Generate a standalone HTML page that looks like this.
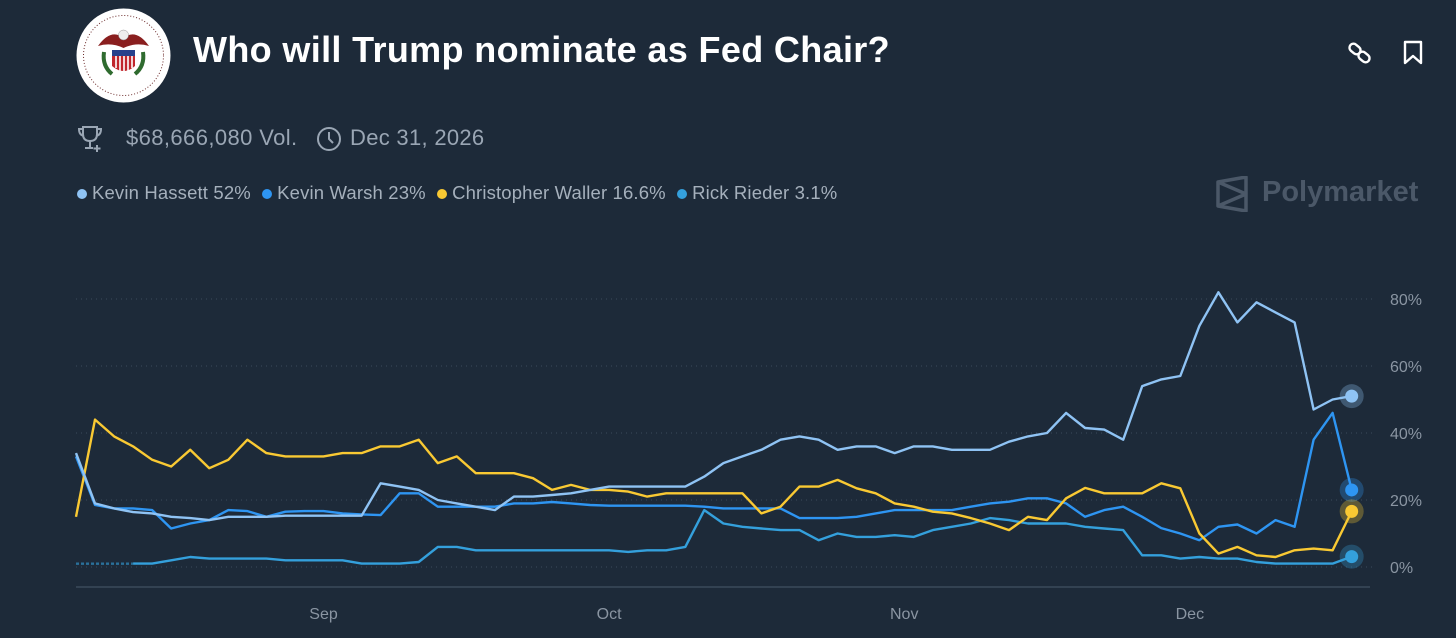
<!DOCTYPE html>
<html><head><meta charset="utf-8">
<style>
html,body{margin:0;padding:0;background:#1d2a39;width:1456px;height:638px;overflow:hidden;font-family:"Liberation Sans",sans-serif;}
.t{position:absolute;white-space:nowrap;}
</style></head>
<body>
<div style="position:relative;width:1456px;height:638px;">
<svg style="position:absolute;left:76px;top:8px" width="95" height="95" viewBox="0 0 95 95">
<circle cx="47.5" cy="47.5" r="47" fill="#fff"/>
<circle cx="47.5" cy="47.5" r="40" fill="none" stroke="#6b2a2a" stroke-width="1" stroke-dasharray="1 2"/>
<path d="M22 38 Q35 20 47.5 30 Q60 20 73 38 Q60 34 47.5 40 Q35 34 22 38Z" fill="#8a1f1f"/>
<circle cx="47.5" cy="27" r="5" fill="#eee" stroke="#999" stroke-width=".5"/>
<path d="M36 42 H59 V58 Q47.5 68 36 58Z" fill="#c0262c"/>
<rect x="36" y="42" width="23" height="6" fill="#27408b"/>
<path d="M40 48V60M44 48V63M48 48V64M52 48V63M56 48V60" stroke="#fff" stroke-width="1.6"/>
<path d="M28 44 Q26 58 36 66" stroke="#2f6b2f" stroke-width="4" fill="none"/>
<path d="M67 44 Q69 58 59 66" stroke="#2f6b2f" stroke-width="4" fill="none"/>
</svg>
<div class="t" style="left:193px;top:29px;font-size:36px;letter-spacing:0.35px;font-weight:bold;color:#fff;">Who will Trump nominate as Fed Chair?</div>
<svg style="position:absolute;left:1347px;top:40px" width="26" height="26" viewBox="0 0 26 26">
<g fill="none" stroke="#fff" stroke-width="2.4"><rect x="2" y="5" width="12" height="8" rx="4" transform="rotate(40 8 9)"/><rect x="11" y="13" width="12" height="8" rx="4" transform="rotate(40 17 17)"/></g></svg>
<svg style="position:absolute;left:1402px;top:40px" width="22" height="26" viewBox="0 0 22 26">
<path d="M3 2H19V23L11 16L3 23Z" fill="none" stroke="#fff" stroke-width="2.4" stroke-linejoin="round"/></svg>
<svg style="position:absolute;left:77px;top:124px" width="28" height="30" viewBox="0 0 28 30">
<g fill="none" stroke="#9aa6b4" stroke-width="2"><path d="M6 3H20V10Q20 17 13 17Q6 17 6 10Z"/><path d="M6 5H2Q2 11 7 12M20 5H24Q24 11 19 12M13 17V23M8 24H16"/><path d="M20 21V28M16.5 24.5H23.5"/></g></svg>
<div class="t" style="left:126px;top:125px;font-size:22px;letter-spacing:0.4px;color:#9aa6b4;">$68,666,080 Vol.</div>
<svg style="position:absolute;left:316px;top:126px" width="26" height="26" viewBox="0 0 26 26">
<g fill="none" stroke="#9aa6b4" stroke-width="2"><circle cx="13" cy="13" r="11"/><path d="M13 6V13L17 17"/></g></svg>
<div class="t" style="left:350px;top:125px;font-size:22px;letter-spacing:0.3px;color:#9aa6b4;">Dec 31, 2026</div>
<div class="t" style="left:77px;top:182px;font-size:18.5px;letter-spacing:0.15px;color:#a5b0bc;">
<span><span style="display:inline-block;width:10px;height:10px;border-radius:50%;background:#8fc3f4;margin-right:5px"></span>Kevin Hassett 52%</span>
<span style="margin-left:6px"><span style="display:inline-block;width:10px;height:10px;border-radius:50%;background:#2e95f2;margin-right:5px"></span>Kevin Warsh 23%</span>
<span style="margin-left:6px"><span style="display:inline-block;width:10px;height:10px;border-radius:50%;background:#f9c933;margin-right:5px"></span>Christopher Waller 16.6%</span>
<span style="margin-left:6px"><span style="display:inline-block;width:10px;height:10px;border-radius:50%;background:#34a0dc;margin-right:5px"></span>Rick Rieder 3.1%</span>
</div>
<svg style="position:absolute;left:1216px;top:176px" width="34" height="36" viewBox="0 0 34 36">
<path d="M2 6L30 1V35L2 30Z M2 6L30 18L2 30 M30 1" fill="none" stroke="#4b5868" stroke-width="3.5" stroke-linejoin="round"/></svg>
<div class="t" style="left:1262px;top:176px;font-size:29px;font-weight:bold;color:#4b5868;">Polymarket</div>
<svg id="chart" style="position:absolute;left:0;top:0" width="1456" height="638"></svg>
</div>
<script>
const days=[];for(let d=0;d<=134;d+=2)days.push(d);
const hassett=[34,19,17.5,16.4,16,15,14.6,14,15,15,15,15.3,15.3,15.3,15.3,15.3,25,24,23,20,19,18,17,21,21,21.5,22,23,24,24,24,24,24,27,31,33,35,38,39,38,35,36,36,34,36,36,35,35,35,37.4,39,40,46,41.5,41,38,54,56,57,72,82,73,79,76,73,47,50,51];
const warsh=[33,18.5,17.5,17.5,17,11.5,13,14,17,16.7,15,16.5,16.7,16.7,16,15.7,15.5,22,22,18,18,18,18,19,19,19.4,19,18.5,18.3,18.3,18.3,18.3,18.3,18,17.5,17.5,17.5,17.5,14.6,14.6,14.6,15,16,17,17,17,17,18,19,19.5,20.5,20.5,19,15,17,18,15,11.6,10,8,12,12.7,10,14,12,38,46,23];
const waller=[15,44,39,36,32,30,35,29.5,32,38,34,33,33,33,34,34,36,36,38,31,33,28,28,28,26.5,23,24.5,23,23,22.5,21,22,22,22,22,22,16,18,24,24,26,23.5,22,19,18,16.5,16,14.6,13,11,15,14,20.5,23.6,22,22,22,25,23.5,10,4,6,3.5,3,5,5.5,5,16.6];
const rieder=[1,1,1,1,1,2,3,2.5,2.5,2.5,2.5,2,2,2,2,1,1,1,1.5,6,6,5,5,5,5,5,5,5,5,4.5,5,5,6,17,13,12,11.5,11,11,8,10,9,9,9.5,9,11,12,13,14.6,14,13,13,13,12,11.5,11,3.5,3.5,2.5,3,2.5,2.5,1.5,1,1,1,1,3.1];
const yTicks=[0,20,40,60,80];
const months=["Sep","Oct","Nov","Dec"];
const monthDays=[26,56,87,117];
const NS="http://www.w3.org/2000/svg";
const svg=document.getElementById('chart');
const X=d=>76+d*9.52;
const Y=v=>567-v*3.35;
function mk(tag,attrs){const e=document.createElementNS(NS,tag);for(const k in attrs)e.setAttribute(k,attrs[k]);svg.appendChild(e);return e;}
yTicks.forEach(t=>{
  const g=mk('line',{x1:76,x2:1372,y1:Y(t),y2:Y(t),stroke:'#3a4a5b','stroke-width':1,'stroke-dasharray':'1 4'});
  
  
  const l=mk('text',{x:1390,y:Y(t)+6,fill:'#8a95a2','font-size':16,'font-family':'Liberation Sans, sans-serif'});
  l.textContent=t+'%';
  
  
});
const ax=mk('line',{x1:76,x2:1370,y1:587,y2:587,stroke:'#3b4a5a','stroke-width':1.5});


months.forEach((m,i)=>{
  const l=mk('text',{x:X(monthDays[i]),y:619,fill:'#8a95a2','font-size':16,'text-anchor':'middle','font-family':'Liberation Sans, sans-serif'});
  l.textContent=m;
  
  
});
function line(vals,color,name,dashN){
  let p='';vals.forEach((v,i)=>{if(i>=dashN)p+=(p?'L':'M')+X(days[i]).toFixed(1)+' '+Y(v).toFixed(1);});
  const e=mk('path',{d:p,fill:'none',stroke:color,'stroke-width':2.4,'stroke-linejoin':'round'});
  
  
  if(dashN>0){let q='';for(let i=0;i<=dashN;i++)q+=(q?'L':'M')+X(days[i])+' '+Y(vals[i]);
    const d=mk('path',{d:q,fill:'none',stroke:color,'stroke-width':2.4,'stroke-dasharray':'3 2',opacity:.6});
    
    }
  const n=vals.length-1;
  const h=mk('circle',{cx:X(days[n]),cy:Y(vals[n]),r:12,fill:color,opacity:.3});
  
  
  const c=mk('circle',{cx:X(days[n]),cy:Y(vals[n]),r:6.5,fill:color});
  
  
}
line(rieder,'#34a0dc','rieder',3);
line(warsh,'#2e95f2','warsh',0);
line(waller,'#f9c933','waller',0);
line(hassett,'#8fc3f4','hassett',0);
</script>
</body></html>
